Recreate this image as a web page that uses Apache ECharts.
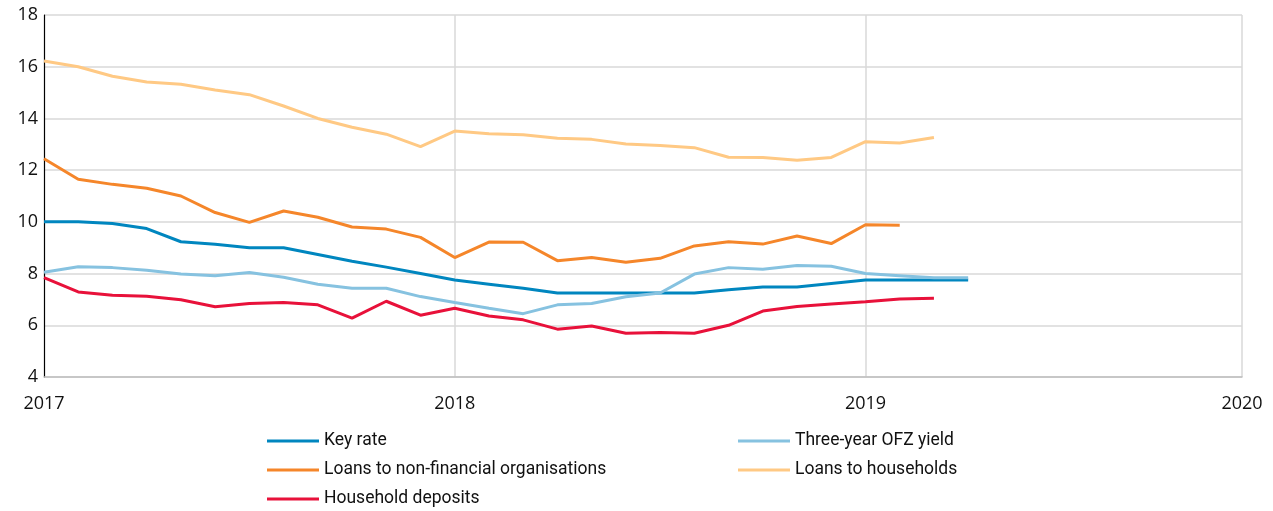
<!DOCTYPE html>
<html>
<head>
<meta charset="utf-8">
<script src="https://cdn.jsdelivr.net/npm/echarts@6/dist/echarts.min.js"></script>
<style>
html,body{margin:0;padding:0;background:#fff;}
#chart{width:1273px;height:511px;}
</style>
</head>
<body>
<div id="chart"></div>
<script>
// Monthly categories Jan 2017 .. Dec 2019
const categories = [];
for (let y = 2017; y <= 2019; y++) {
  for (let m = 1; m <= 12; m++) categories.push(y + '-' + (m < 10 ? '0' + m : m));
}
const tickIndex = [0, 12, 24, 35];
const tickLabels = ['2017', '2018', '2019', '2020'];

const keyRate = [10.0, 10.0, 9.94, 9.74, 9.23, 9.13, 9.0, 9.0, 8.74, 8.48, 8.25, 8.0,
  7.75, 7.59, 7.43, 7.25, 7.25, 7.25, 7.25, 7.25, 7.37, 7.48, 7.48, 7.62,
  7.75, 7.75, 7.75, 7.75];
const ofzYield = [8.05, 8.26, 8.23, 8.13, 7.98, 7.92, 8.04, 7.86, 7.59, 7.43, 7.43, 7.11,
  6.88, 6.66, 6.45, 6.79, 6.84, 7.10, 7.25, 7.98, 8.23, 8.17, 8.31, 8.28,
  8.0, 7.92, 7.84, 7.84];
const loansNonFin = [12.44, 11.65, 11.45, 11.30, 11.0, 10.36, 9.98, 10.42, 10.18, 9.80, 9.72, 9.40,
  8.62, 9.22, 9.21, 8.50, 8.62, 8.44, 8.59, 9.07, 9.23, 9.14, 9.45, 9.16,
  9.89, 9.87];
const loansHouseholds = [16.22, 16.0, 15.63, 15.41, 15.32, 15.10, 14.92, 14.48, 14.0, 13.66, 13.39, 12.91,
  13.51, 13.41, 13.37, 13.23, 13.19, 13.01, 12.95, 12.87, 12.50, 12.49, 12.38, 12.49,
  13.10, 13.05, 13.26];
const householdDeposits = [7.84, 7.29, 7.16, 7.12, 6.99, 6.72, 6.84, 6.88, 6.79, 6.28, 6.93, 6.39,
  6.66, 6.36, 6.21, 5.85, 5.97, 5.69, 5.72, 5.69, 6.0, 6.55, 6.73, 6.82,
  6.91, 7.02, 7.05];

const seriesDefs = [
  {name: 'Key rate', data: keyRate, color: '#0086BF'},
  {name: 'Three-year OFZ yield', data: ofzYield, color: '#86C2E0'},
  {name: 'Loans to non-financial organisations', data: loansNonFin, color: '#F5862A'},
  {name: 'Loans to households', data: loansHouseholds, color: '#FFC984'},
  {name: 'Household deposits', data: householdDeposits, color: '#E8113A'}
];

const chart = echarts.init(document.getElementById('chart'));
const FONT = 'Open Sans';
const legendBase = {
  orient: 'vertical',
  top: 432,
  padding: 0,
  itemWidth: 52,
  itemHeight: 3,
  icon: 'rect',
  itemGap: 11,
  selectedMode: false,
  textStyle: {fontFamily: 'Roboto', fontSize: 17.5, color: '#111', lineHeight: 18}
};
chart.setOption({
  animation: false,
  backgroundColor: '#fff',
  grid: {left: 44, right: 31, top: 15, bottom: 134, containLabel: false},
  legend: [
    Object.assign({}, legendBase, {left: 267, data: ['Key rate', 'Loans to non-financial organisations', 'Household deposits']}),
    Object.assign({}, legendBase, {left: 738, data: ['Three-year OFZ yield', 'Loans to households']})
  ],
  xAxis: {
    type: 'category',
    data: categories,
    boundaryGap: false,
    axisLine: {show: true, lineStyle: {color: '#BFBFBF', width: 1.5}},
    axisTick: {show: false},
    axisLabel: {
      interval: function (i) { return tickIndex.indexOf(i) >= 0; },
      formatter: function (v, i) { const k = tickIndex.indexOf(i); return k >= 0 ? tickLabels[k] : ''; },
      margin: 18,
      fontFamily: FONT, fontSize: 18, color: '#111',
      showMaxLabel: true
    },
    splitLine: {
      show: true,
      interval: function (i) { return i === 12 || i === 24 || i === 35; },
      lineStyle: {color: '#D9D9D9', width: 1.5}
    }
  },
  yAxis: {
    type: 'value',
    min: 4, max: 18, interval: 2,
    axisLine: {show: true, lineStyle: {color: '#000', width: 1.2}},
    axisTick: {show: false},
    axisLabel: {margin: 6, fontFamily: FONT, fontSize: 18, color: '#111'},
    splitLine: {show: true, lineStyle: {color: '#D9D9D9', width: 1.5}}
  },
  series: seriesDefs.map(function (s) {
    return {
      name: s.name, type: 'line', data: s.data,
      symbol: 'none', color: s.color,
      lineStyle: {color: s.color, width: 3},
      itemStyle: {color: s.color}
    };
  })
});
</script>
</body>
</html>
